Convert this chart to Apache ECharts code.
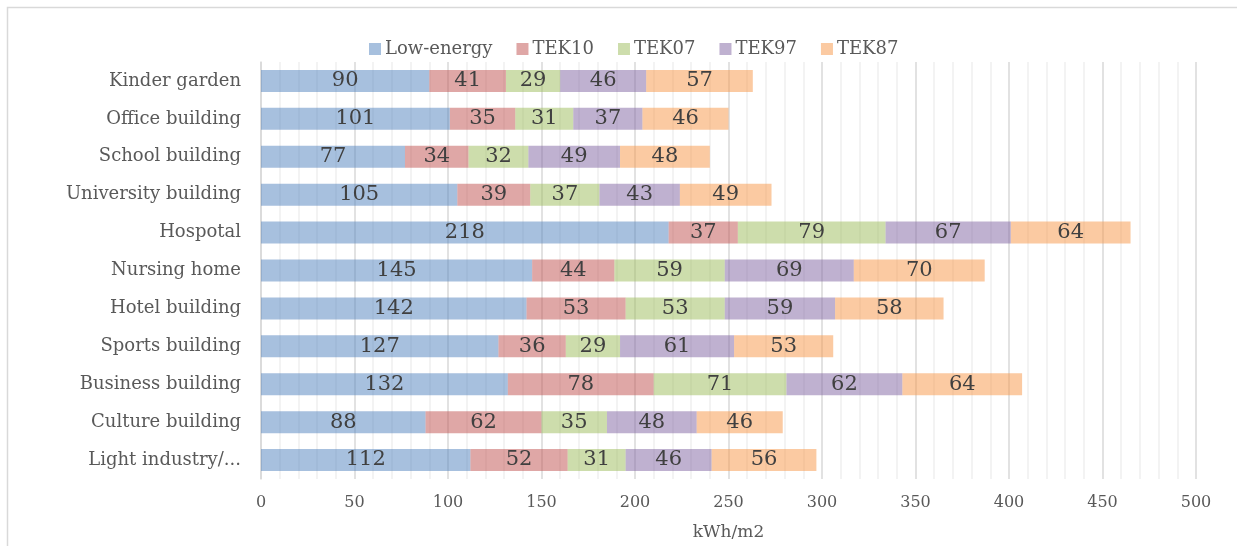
<!DOCTYPE html>
<html>
<head>
<meta charset="utf-8">
<title>Energy use by building type</title>
<script src="https://cdn.jsdelivr.net/npm/echarts@6/dist/echarts.min.js"></script>
<style>
  html, body { margin: 0; padding: 0; background: #fff; overflow: hidden; }
  #chart { width: 1237px; height: 546px; }
</style>
</head>
<body>
<div id="chart"></div>
<script>
// Building categories, top to bottom
const categories = [
  'Kinder garden', 'Office building', 'School building', 'University building',
  'Hospotal', 'Nursing home', 'Hotel building', 'Sports building',
  'Business building', 'Culture building', 'Light industry/...'
];

// Energy demand per standard (kWh/m2), stacked in this order
const lowEnergy = [90, 101, 77, 105, 218, 145, 142, 127, 132, 88, 112];
const tek10     = [41, 35, 34, 39, 37, 44, 53, 36, 78, 62, 52];
const tek07     = [29, 31, 32, 37, 79, 59, 53, 29, 71, 35, 31];
const tek97     = [46, 37, 49, 43, 67, 69, 59, 61, 62, 48, 46];
const tek87     = [57, 46, 48, 49, 64, 70, 58, 53, 64, 46, 56];

const seriesNames = ['Low-energy', 'TEK10', 'TEK07', 'TEK97', 'TEK87'];
const seriesData = [lowEnergy, tek10, tek07, tek97, tek87];
// Half-transparent fills so the grid shows through the bars
const colors = [
  'rgba(79,129,189,0.5)', 'rgba(192,80,77,0.5)', 'rgba(155,187,89,0.5)',
  'rgba(128,100,162,0.5)', 'rgba(247,150,70,0.5)'
];

const FONT = 'DejaVu Serif';

const chart = echarts.init(document.getElementById('chart'), null, { renderer: 'canvas' });

chart.setOption({
  animation: false,
  textStyle: { fontFamily: FONT },
  color: colors,
  // chart-area frame (left and top edges)
  graphic: [{
    type: 'polyline',
    shape: { points: [[7.5, 600], [7.5, 7.5], [1300, 7.5]] },
    style: { stroke: '#d9d9d9', lineWidth: 1.5, fill: null },
    silent: true
  }],
  legend: {
    top: 35,
    left: 364,
    itemWidth: 12,
    itemHeight: 12,
    itemGap: 24,
    icon: 'rect',
    textStyle: { fontFamily: FONT, fontSize: 18, color: '#595959', padding: [0, 0, 0, -1] },
    data: seriesNames
  },
  grid: { left: 261, right: 41, top: 62, bottom: 64, containLabel: false },
  xAxis: {
    type: 'value',
    min: 0,
    max: 500,
    interval: 50,
    name: 'kWh/m2',
    nameLocation: 'middle',
    nameGap: 45,
    nameTextStyle: { fontFamily: FONT, fontSize: 17, color: '#595959' },
    axisLine: { show: false },
    axisTick: { show: false },
    axisLabel: { fontFamily: FONT, fontSize: 16, color: '#595959', margin: 16 },
    splitLine: { show: true, lineStyle: { color: '#d9d9d9', width: 1.5 } },
    minorTick: { show: false, splitNumber: 5 },
    minorSplitLine: { show: true, lineStyle: { color: '#f0f0f0', width: 1.5 } }
  },
  yAxis: {
    type: 'category',
    inverse: true,
    data: categories,
    axisLine: { show: true, lineStyle: { color: '#d9d9d9', width: 1.5 } },
    axisTick: { show: false },
    axisLabel: { fontFamily: FONT, fontSize: 18, color: '#595959', margin: 20 }
  },
  series: seriesNames.map((name, i) => ({
    name: name,
    type: 'bar',
    stack: 'total',
    barWidth: 22,
    data: seriesData[i],
    itemStyle: { color: colors[i] },
    label: {
      show: true,
      position: 'inside',
      fontFamily: FONT,
      fontSize: 21,
      color: '#404040'
    }
  }))
});
</script>
</body>
</html>
